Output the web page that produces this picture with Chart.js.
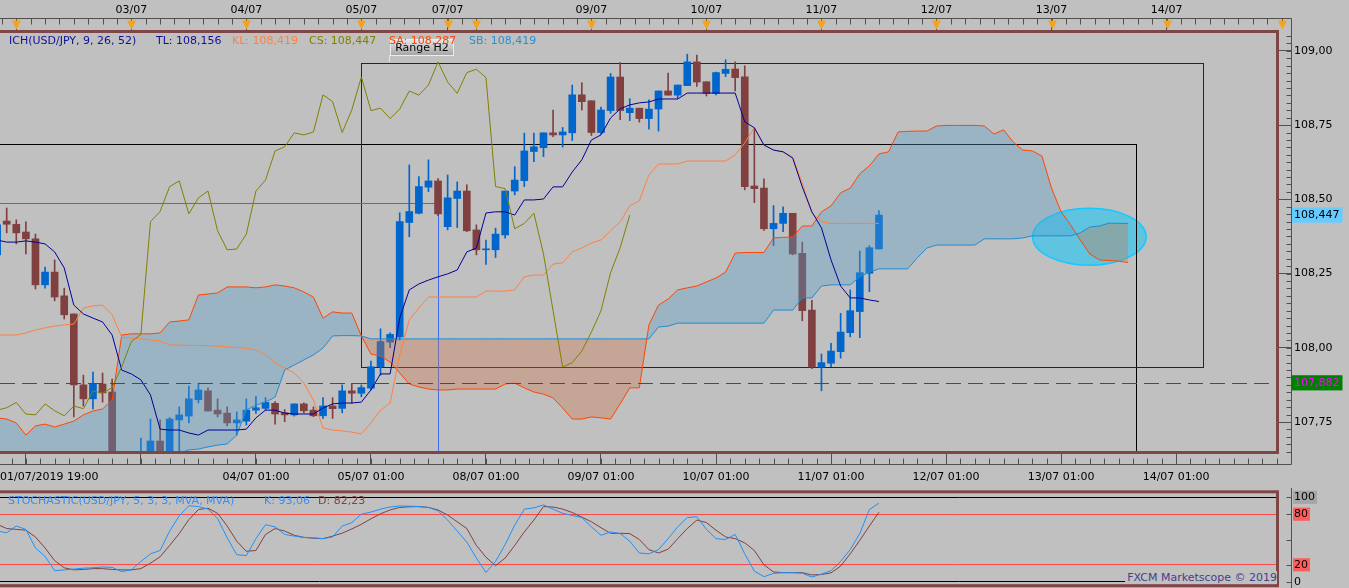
<!DOCTYPE html>
<html>
<head>
<meta charset="utf-8">
<title>USD/JPY H2 - Ichimoku / Stochastic</title>
<script src="https://cdn.jsdelivr.net/npm/chart.js@4.4.0/dist/chart.umd.min.js"></script>
<style>
  html, body { margin: 0; padding: 0; background: #c0c0c0; }
  #wrap { position: relative; width: 1349px; height: 588px; overflow: hidden; font-family: "DejaVu Sans", sans-serif; font-size: 11px; }
  canvas { position: absolute; left: 0; }
  .txt { position: absolute; white-space: nowrap; line-height: 13px; }
  #rangeBtn {
    position: absolute; left: 390px; top: 39px; width: 62px; height: 15px;
    background: linear-gradient(#e4e4e4, #a6a6a6); border: 1px solid #ececec;
    text-align: center; line-height: 16px; color: #000;
  }
  #rangeLink { position: absolute; left: 389px; top: 55px; width: 1px; height: 7px; background: #e6e6e6; }
  #copyright { right: 72px; top: 571px; color: #483d8b; background: #c0c0c0; padding-left: 2px; }
</style>
</head>
<body>
<div id="wrap">
  <canvas id="mainChart" width="1349" height="490" style="top:0"></canvas>
  <canvas id="stochChart" width="1349" height="100" style="top:488px"></canvas>
  <div id="rangeLink"></div>
  <div id="rangeBtn">Range H2</div>
  <div id="ichLegend"></div>
  <div id="stochLegend"></div>
  <div class="txt" id="copyright">FXCM Marketscope © 2019</div>
</div>
<script>
// H2 bars, bar -1 = 01/07/2019 19:00
const FIRST_BAR = -1;
const CHIKOU_SHIFT = 26;

const openP = [
  108.313,108.427,108.416,108.390,108.367,108.212,108.255,108.175,108.114,107.875,
  107.828,107.878,107.851,107.600,107.620,107.600,107.620,107.686,107.630,107.757,
  107.770,107.825,107.855,107.790,107.780,107.747,107.753,107.790,107.796,107.813,
  107.781,107.774,107.811,107.790,107.771,107.804,107.796,107.855,107.847,107.864,
  107.936,108.019,108.037,108.422,108.453,108.541,108.562,108.408,108.503,108.528,
  108.397,108.330,108.330,108.380,108.528,108.563,108.661,108.674,108.724,108.717,
  108.724,108.852,108.832,108.725,108.799,108.912,108.792,108.807,108.772,108.804,
  108.865,108.851,108.883,108.963,108.896,108.857,108.924,108.939,108.913,108.545,
  108.538,108.401,108.419,108.453,108.318,108.127,107.935,107.948,107.987,108.051,
  108.122,108.251,108.333
];
const highP = [
  108.430,108.471,108.431,108.424,108.383,108.272,108.296,108.201,108.114,107.908,
  107.918,107.915,107.895,107.640,107.645,107.696,107.760,107.757,107.765,107.801,
  107.871,107.881,107.865,107.828,107.801,107.784,107.828,107.836,107.832,107.819,
  107.792,107.811,107.815,107.801,107.832,107.832,107.875,107.880,107.875,107.955,
  108.064,108.050,108.455,108.616,108.577,108.633,108.570,108.582,108.559,108.549,
  108.414,108.363,108.403,108.528,108.610,108.723,108.723,108.724,108.801,108.742,
  108.885,108.893,108.832,108.811,108.924,108.961,108.839,108.807,108.835,108.865,
  108.925,108.885,108.989,108.986,108.896,108.929,108.970,108.963,108.950,108.740,
  108.569,108.479,108.475,108.453,108.356,108.160,107.979,108.015,108.116,108.195,
  108.326,108.344,108.462
];
const lowP = [
  108.300,108.387,108.350,108.316,108.198,108.201,108.158,108.097,107.767,107.804,
  107.794,107.817,107.580,107.550,107.560,107.580,107.600,107.610,107.620,107.649,
  107.747,107.814,107.787,107.767,107.737,107.706,107.740,107.779,107.790,107.743,
  107.751,107.770,107.781,107.768,107.762,107.762,107.781,107.813,107.835,107.858,
  107.908,108.000,108.026,108.374,108.451,108.526,108.445,108.397,108.405,108.391,
  108.313,108.281,108.304,108.369,108.515,108.543,108.627,108.644,108.711,108.676,
  108.698,108.801,108.715,108.720,108.790,108.768,108.765,108.760,108.736,108.730,
  108.851,108.840,108.883,108.880,108.848,108.852,108.913,108.865,108.532,108.489,
  108.395,108.344,108.391,108.313,108.091,107.930,107.855,107.936,107.965,108.037,
  108.034,108.189,108.333
];
const closeP = [
  108.414,108.416,108.387,108.367,108.212,108.255,108.171,108.111,107.875,107.828,
  107.878,107.848,107.600,107.620,107.600,107.640,107.686,107.630,107.760,107.774,
  107.828,107.858,107.787,107.777,107.747,107.757,107.790,107.798,107.816,107.777,
  107.774,107.811,107.788,107.771,107.804,107.795,107.855,107.847,107.866,107.936,
  108.021,108.045,108.425,108.459,108.543,108.562,108.451,108.505,108.528,108.394,
  108.330,108.333,108.383,108.528,108.565,108.663,108.677,108.724,108.717,108.727,
  108.852,108.829,108.725,108.801,108.912,108.799,108.807,108.772,108.804,108.865,
  108.851,108.885,108.963,108.895,108.857,108.927,108.938,108.910,108.543,108.536,
  108.401,108.419,108.453,108.316,108.125,107.935,107.950,107.989,108.053,108.125,
  108.253,108.337,108.447
];

// Ichimoku lines, from bar -1
const tenkan = [
  108.363,108.356,108.356,108.360,108.356,108.350,108.323,108.269,108.144,108.114,
  108.100,108.087,108.043,107.925,107.912,107.892,107.841,107.726,107.723,107.723,
  107.713,107.706,107.723,107.723,107.723,107.723,107.726,107.764,107.790,107.790,
  107.780,107.777,107.777,107.777,107.797,107.811,107.814,107.814,107.817,107.858,
  107.912,107.912,108.100,108.195,108.215,108.228,108.239,108.249,108.262,108.323,
  108.336,108.454,108.458,108.458,108.447,108.498,108.498,108.501,108.542,108.542,
  108.592,108.633,108.700,108.717,108.774,108.805,108.818,108.825,108.828,108.838,
  108.838,108.838,108.858,108.858,108.858,108.858,108.858,108.858,108.761,108.741,
  108.683,108.666,108.660,108.639,108.542,108.458,108.404,108.296,108.208,108.168,
  108.168,108.161,108.156
];
const kijun = [
  108.043,108.043,108.043,108.050,108.060,108.067,108.073,108.077,108.080,108.134,
  108.141,108.144,108.111,108.036,108.033,108.030,108.026,108.023,108.009,108.009,
  108.008,108.008,108.007,108.006,108.003,108.001,107.998,107.993,107.976,107.949,
  107.932,107.915,107.881,107.824,107.730,107.723,107.720,107.716,107.710,107.747,
  107.790,107.814,107.976,108.094,108.134,108.171,108.171,108.171,108.171,108.171,
  108.171,108.191,108.191,108.191,108.195,108.239,108.245,108.245,108.282,108.286,
  108.323,108.336,108.353,108.363,108.394,108.424,108.478,108.495,108.582,108.619,
  108.619,108.619,108.629,108.629,108.629,108.629,108.629,108.650,108.690,108.741,
  108.683,108.666,108.660,108.643,108.555,108.454,108.424,108.419,108.419,108.419,
  108.419,108.419,108.419
];
// senkou spans as plotted (already 26 bars ahead), from bar -1 to bar 117
const senkouA = [
  107.764,107.760,107.747,107.706,107.737,107.743,107.733,107.743,107.753,107.774,
  107.787,107.794,107.824,108.043,108.047,108.047,108.047,108.050,108.087,108.090,
  108.094,108.178,108.181,108.185,108.205,108.205,108.205,108.202,108.205,108.212,
  108.208,108.202,108.188,108.171,108.100,108.121,108.117,108.117,108.040,107.979,
  107.972,107.952,107.915,107.878,107.868,107.861,107.858,107.858,107.861,107.861,
  107.861,107.861,107.861,107.878,107.881,107.865,107.851,107.844,107.831,107.797,
  107.760,107.760,107.767,107.764,107.760,107.811,107.865,107.865,108.077,108.144,
  108.164,108.195,108.202,108.208,108.222,108.235,108.255,108.319,108.321,108.321,
  108.321,108.370,108.372,108.373,108.410,108.410,108.458,108.478,108.522,108.538,
  108.586,108.613,108.653,108.660,108.727,108.729,108.730,108.730,108.747,108.749,
  108.749,108.749,108.749,108.747,108.720,108.734,108.693,108.666,108.663,108.646,
  108.538,108.458,108.414,108.363,108.316,108.296,108.294,108.292,108.287
];
const senkouB = [
  107.550,107.550,107.550,107.550,107.550,107.550,107.550,107.550,107.550,107.550,
  107.550,107.550,107.550,107.550,107.550,107.550,107.550,107.550,107.550,107.645,
  107.656,107.659,107.666,107.672,107.676,107.706,107.790,107.807,107.817,107.834,
  107.925,107.942,107.959,107.976,107.999,108.040,108.041,108.041,108.040,108.030,
  108.030,108.030,108.030,108.030,108.030,108.030,108.030,108.030,108.030,108.030,
  108.030,108.030,108.030,108.030,108.030,108.030,108.030,108.030,108.030,108.030,
  108.030,108.030,108.030,108.030,108.030,108.030,108.030,108.030,108.030,108.070,
  108.073,108.083,108.083,108.083,108.083,108.083,108.083,108.083,108.083,108.083,
  108.083,108.127,108.127,108.127,108.168,108.168,108.208,108.212,108.212,108.212,
  108.239,108.255,108.266,108.266,108.266,108.266,108.303,108.336,108.346,108.346,
  108.346,108.346,108.346,108.367,108.367,108.367,108.367,108.370,108.377,108.377,
  108.377,108.377,108.377,108.387,108.407,108.410,108.420,108.419,108.419
];

// Stochastic (5,3,3), from bar -1
const stochK = [
  60,58,66,62,40,30,13,14,15,16,
  16.5,17.5,17,12,14,24,33,37,60,78,
  90,89,86,75,52,32,31,51,67.5,65,
  56,54,52.5,52,51,53,66,70,80,82.5,
  86,88.5,89.7,89.5,89,88,84,73,60,47,
  28,11,24,44,67,86,87.5,91,86,81,
  78.5,76,65,55,59,57,48,34,33,38,
  51,65,76,77,62,51,50,56,33,12.5,
  6,9.8,10.7,10.7,10,5.5,9,13,24,38,
  57,85.5,93.06
];
const stochD = [
  68,63,62,61,53,40,25,16.5,14,14.5,
  15.5,15.5,14.5,14,14,15.5,22,29.5,43,57,
  73.5,85.5,87,81,66,48,36,37,56,63,
  60,55,52.5,51.5,51,54,57.5,62.5,68,74.5,
  80.5,85,88,88.7,89,88,85,79,71,63,
  43,29,19,28,43,59,73,89,88.5,86,
  82,76.5,71,64,57.3,57.3,57,50,38,34,
  38.5,51,63,73,70,61,53,51,46,37,
  20,11.5,10.7,10.7,10.7,8,8.5,10.5,18.5,33,
  49,66,82.23
];

// axes
const dayTicks = [2, 14, 26, 38, 50, 62, 74, 86, 98, 110, 122];
const dayLabels = ['', '', '04/07 01:00', '05/07 01:00', '08/07 01:00', '09/07 01:00', '10/07 01:00', '11/07 01:00', '12/07 01:00', '13/07 01:00', '14/07 01:00'];
const firstBarLabel = '01/07/2019 19:00';
const topTicks = [1, 13, 25, 37, 46, 49, 61, 73, 85, 97, 109, 121];
const topLabels = ['', '03/07', '04/07', '05/07', '07/07', '', '09/07', '10/07', '11/07', '12/07', '13/07', '14/07'];
const sessionMarks = [1, 13, 25, 37, 46, 49, 61, 73, 85, 97, 109, 121, 133];
const priceTicks = [107.75, 108.00, 108.25, 108.50, 108.75, 109.00];
const stochLevels = [0, 20, 80, 100];

// drawings on the chart (bar index / price)
const levelLine = 107.882;
const rangeBox = { from: 37, to: 124.8, low: 107.936, high: 108.960 };
const outerBox = { from: -5, to: 117.85, low: 107.5, high: 108.686 };
const crossMark = { from: -5, bar: 45, price: 108.487 };
const ellipseMark = { bar: 112.95, price: 108.374, dBar: 5.92, dPrice: 0.096 };

const X_MIN = -0.7, X_MAX = 132.63;
const Y_MIN = 107.649, Y_MAX = 109.067;

const UP = '#0066cc', DOWN = '#804040';
const AXIS = '#505050';
const FONT = '"DejaVu Sans", sans-serif';

Chart.defaults.font.family = FONT;
Chart.defaults.font.size = 11;
Chart.defaults.color = '#000';

const fmt = (v, d) => v.toFixed(d).replace('.', ',');
const last = arr => arr[arr.length - 1];
const toXY = (arr, shift = 0) => arr.map((v, k) => ({ x: FIRST_BAR + k + shift, y: v }));
const crisp = v => Math.round(v) + 0.5;

const candleColors = openP.map((o, k) => closeP[k] >= o ? UP : DOWN);
const wickData = lowP.map((l, k) => ({ x: FIRST_BAR + k, y: [l, highP[k]] }));
const bodyData = openP.map((o, k) => ({ x: FIRST_BAR + k, y: [o, closeP[k]] }));
const lastClose = last(closeP);

function hline(ctx, x1, x2, y) { ctx.beginPath(); ctx.moveTo(x1, y); ctx.lineTo(x2, y); ctx.stroke(); }
function vline(ctx, x, y1, y2) { ctx.beginPath(); ctx.moveTo(x, y1); ctx.lineTo(x, y2); ctx.stroke(); }

const mainDecor = {
  id: 'mainDecor',
  beforeDatasetsDraw(chart) {
    const { ctx, chartArea: a, scales: { x, y } } = chart;
    ctx.save();
    ctx.beginPath();
    ctx.rect(a.left, a.top, a.right - a.left, a.bottom - a.top);
    ctx.clip();

    // highlight ellipse
    const cx = x.getPixelForValue(ellipseMark.bar), cy = y.getPixelForValue(ellipseMark.price);
    const rx = x.getPixelForValue(ellipseMark.bar + ellipseMark.dBar) - cx;
    const ry = cy - y.getPixelForValue(ellipseMark.price + ellipseMark.dPrice);
    ctx.beginPath();
    ctx.ellipse(cx, cy, rx, ry, 0, 0, Math.PI * 2);
    ctx.fillStyle = 'rgba(29,199,245,0.6)';
    ctx.fill();
    ctx.strokeStyle = '#14c8ff';
    ctx.lineWidth = 1.5;
    ctx.stroke();

    ctx.lineWidth = 1;
    [[outerBox, '#000000'], [rangeBox, '#800000']].forEach(([b, col]) => {
      const x1 = crisp(x.getPixelForValue(b.from)), x2 = crisp(x.getPixelForValue(b.to));
      const y1 = crisp(y.getPixelForValue(b.high)), y2 = crisp(y.getPixelForValue(b.low));
      ctx.strokeStyle = col;
      ctx.strokeRect(x1, y1, x2 - x1, y2 - y1);
    });

    // cursor lines
    ctx.strokeStyle = '#4468f0';
    const cpx = crisp(x.getPixelForValue(crossMark.bar)), cpy = crisp(y.getPixelForValue(crossMark.price));
    hline(ctx, x.getPixelForValue(crossMark.from), cpx, cpy);
    vline(ctx, cpx, cpy, a.bottom);
    ctx.restore();
  },
  afterDatasetsDraw(chart) {
    const { ctx, chartArea: a, scales: { y } } = chart;
    ctx.save();
    ctx.strokeStyle = '#008000';
    ctx.lineWidth = 1;
    ctx.setLineDash([15, 7]);
    hline(ctx, a.left, a.right, crisp(y.getPixelForValue(levelLine)));
    ctx.restore();
  },
  afterDraw(chart) {
    const { ctx, chartArea: a, scales: { x, xTop, y } } = chart;
    ctx.save();
    ctx.lineWidth = 1;
    ctx.strokeStyle = AXIS;
    const axisX = crisp(y.left + 13);
    const topBase = crisp(xTop.bottom - 13);
    const botBase = crisp(x.top + 12);
    hline(ctx, 0, axisX, topBase);
    hline(ctx, 0, axisX, botBase);
    vline(ctx, axisX, topBase, botBase);

    // minor ticks, every 3 hours
    for (let v = sessionMarks[0] - 1.5; v <= X_MAX + 1; v += 1.5) {
      const px = crisp(x.getPixelForValue(v));
      if (px < 0 || px > axisX) continue;
      vline(ctx, px, topBase, topBase + 6);
    }
    for (let v = dayTicks[0] - 1.5; v <= X_MAX + 1; v += 1.5) {
      const px = crisp(x.getPixelForValue(v));
      if (px < 0 || px > axisX) continue;
      vline(ctx, px, botBase - 6, botBase);
    }
    for (let p = 107.65; p <= Y_MAX; p += 0.025) {
      const py = crisp(y.getPixelForValue(p));
      hline(ctx, axisX - 5, axisX, py);
    }

    // session markers
    ctx.fillStyle = '#f7a21b';
    sessionMarks.forEach(v => {
      const px = Math.round(x.getPixelForValue(v)) + 0.5;
      ctx.beginPath();
      ctx.moveTo(px - 4.5, topBase + 2);
      ctx.lineTo(px + 4.5, topBase + 2);
      ctx.lineTo(px, topBase + 11);
      ctx.closePath();
      ctx.fill();
    });

    // first time label, pinned to the left edge
    ctx.fillStyle = '#000';
    ctx.font = '11px ' + FONT;
    ctx.textAlign = 'left';
    ctx.textBaseline = 'middle';
    ctx.fillText(firstBarLabel, Math.max(a.left, x.getPixelForValue(FIRST_BAR)), x.top + 12 + 7 + 6.6);

    // pane frame
    ctx.strokeStyle = '#7f4646';
    ctx.lineWidth = 3;
    ctx.strokeRect(-5, a.top + 0.5, a.right - 0.5 + 5, a.bottom - a.top);
    ctx.restore();
  }
};

new Chart(document.getElementById('mainChart'), {
  type: 'line',
  data: {
    datasets: [
      { type: 'bar', data: wickData, backgroundColor: candleColors, barThickness: 1, grouped: false, clip: 0, order: 20 },
      { type: 'bar', data: bodyData, backgroundColor: candleColors, barThickness: 7, grouped: false, minBarLength: 1, clip: 0, order: 19 },
      { label: 'SA', data: toXY(senkouA), borderColor: '#ff4500', borderWidth: 1, pointRadius: 0, tension: 0,
        fill: { target: '+1', above: 'rgba(83,158,203,0.35)', below: 'rgba(203,115,72,0.35)' }, order: 5 },
      { label: 'SB', data: toXY(senkouB), borderColor: '#1e8cd2', borderWidth: 1, pointRadius: 0, tension: 0, fill: false, order: 4 },
      { label: 'KL', data: toXY(kijun), borderColor: '#ff8040', borderWidth: 1, pointRadius: 0, tension: 0, fill: false, order: 3 },
      { label: 'TL', data: toXY(tenkan), borderColor: '#000096', borderWidth: 1, pointRadius: 0, tension: 0, fill: false, order: 2 },
      { label: 'CS', data: toXY(closeP, -CHIKOU_SHIFT), borderColor: '#808000', borderWidth: 1, pointRadius: 0, tension: 0, fill: false, order: 1 }
    ]
  },
  options: {
    responsive: false,
    animation: false,
    devicePixelRatio: 1,
    events: [],
    layout: { padding: 0, autoPadding: false },
    plugins: { legend: { display: false }, tooltip: { enabled: false } },
    scales: {
      x: {
        type: 'linear', position: 'bottom', min: X_MIN, max: X_MAX, offset: false,
        afterBuildTicks: s => { s.ticks = dayTicks.map(v => ({ value: v })); },
        afterFit: s => { s.height = 38; s.paddingLeft = 0; s.paddingRight = 0; },
        ticks: { autoSkip: false, maxRotation: 0, padding: 7, callback: v => dayLabels[dayTicks.indexOf(v)] || '' },
        grid: { drawOnChartArea: false, offset: false, tickLength: 12, tickColor: AXIS },
        border: { display: false }
      },
      xTop: {
        type: 'linear', position: 'top', min: X_MIN, max: X_MAX, offset: false,
        afterBuildTicks: s => { s.ticks = topTicks.map(v => ({ value: v })); },
        afterFit: s => { s.height = 31; s.paddingLeft = 0; s.paddingRight = 0; },
        ticks: { autoSkip: false, maxRotation: 0, padding: 1, callback: v => topLabels[topTicks.indexOf(v)] || '' },
        grid: { drawOnChartArea: false, offset: false, tickLength: 13, tickColor: AXIS },
        border: { display: false }
      },
      y: {
        type: 'linear', position: 'right', min: Y_MIN, max: Y_MAX, beginAtZero: false,
        afterBuildTicks: s => {
          s.ticks = priceTicks.concat([levelLine, lastClose]).sort((p, q) => p - q).map(v => ({ value: v }));
        },
        afterFit: s => { s.width = 71; s.paddingTop = 0; s.paddingBottom = 0; },
        ticks: {
          autoSkip: false, padding: 3,
          callback: v => (v === levelLine || v === lastClose) ? fmt(v, 3) : fmt(v, 2),
          color: c => c.tick && c.tick.value === levelLine ? '#ff00ff' : '#000',
          showLabelBackdrop: true,
          backdropPadding: { top: 1, bottom: 1, left: 3, right: 3 },
          backdropColor: c => !c.tick ? 'rgba(0,0,0,0)' :
            c.tick.value === lastClose ? '#66ccff' : c.tick.value === levelLine ? '#008000' : 'rgba(0,0,0,0)'
        },
        grid: {
          drawOnChartArea: false, tickLength: 13,
          tickColor: c => c.tick && (c.tick.value === levelLine || c.tick.value === lastClose) ? 'rgba(0,0,0,0)' : AXIS
        },
        border: { display: false }
      }
    }
  },
  plugins: [mainDecor]
});

const stochDecor = {
  id: 'stochDecor',
  afterDraw(chart) {
    const { ctx, chartArea: a, scales: { y } } = chart;
    ctx.save();
    ctx.lineWidth = 1;
    ctx.strokeStyle = AXIS;
    const axisX = crisp(y.left + 13);
    vline(ctx, axisX, 0, chart.height);
    stochLevels.concat([50]).forEach(v => hline(ctx, axisX - 5, axisX, crisp(y.getPixelForValue(v))));
    ctx.strokeStyle = '#7f4646';
    ctx.lineWidth = 3;
    ctx.strokeRect(-5, a.top - 5.5, a.right - 0.5 + 5, a.bottom - a.top + 9.5);
    ctx.restore();
  }
};

new Chart(document.getElementById('stochChart'), {
  type: 'line',
  data: {
    datasets: [
      { label: 'D', data: toXY(stochD), borderColor: '#804040', borderWidth: 1, pointRadius: 0, tension: 0, order: 2 },
      { label: 'K', data: toXY(stochK), borderColor: '#1e90ff', borderWidth: 1, pointRadius: 0, tension: 0, order: 1 }
    ]
  },
  options: {
    responsive: false,
    animation: false,
    devicePixelRatio: 1,
    events: [],
    layout: { padding: { top: 9.3, bottom: 6.3, left: 0, right: 0 }, autoPadding: false },
    plugins: { legend: { display: false }, tooltip: { enabled: false } },
    scales: {
      x: { type: 'linear', display: false, min: X_MIN, max: X_MAX, offset: false },
      y: {
        type: 'linear', position: 'right', min: 0, max: 100,
        afterBuildTicks: s => { s.ticks = stochLevels.map(v => ({ value: v })); },
        afterFit: s => { s.width = 71; s.paddingTop = 0; s.paddingBottom = 0; },
        ticks: {
          autoSkip: false, padding: 3,
          callback: v => String(v),
          showLabelBackdrop: true,
          backdropPadding: { top: 0, bottom: 0, left: 1, right: 2 },
          backdropColor: c => !c.tick ? 'rgba(0,0,0,0)' :
            c.tick.value === 100 ? '#a6a6a6' : (c.tick.value === 80 || c.tick.value === 20) ? '#ff5c5c' : 'rgba(0,0,0,0)'
        },
        grid: {
          drawOnChartArea: true, tickLength: 13, tickColor: 'rgba(0,0,0,0)',
          color: c => !c.tick ? 'rgba(0,0,0,0)' : (c.tick.value === 80 || c.tick.value === 20) ? '#ff4848' : '#000'
        },
        border: { display: false }
      }
    }
  },
  plugins: [stochDecor]
});

// legends as real text
function addLegend(parentId, items, top) {
  const box = document.getElementById(parentId);
  items.forEach(([text, color, left]) => {
    const s = document.createElement('span');
    s.className = 'txt';
    s.textContent = text;
    s.style.color = color;
    s.style.left = left + 'px';
    s.style.top = top + 'px';
    box.appendChild(s);
  });
}

addLegend('ichLegend', [
  ['ICH(USD/JPY, 9, 26, 52)', '#10109a', 9],
  ['TL: ' + fmt(last(tenkan), 3), '#10109a', 156],
  ['KL: ' + fmt(last(kijun), 3), '#ff8040', 232],
  ['CS: ' + fmt(lastClose, 3), '#808000', 309],
  ['SA: ' + fmt(last(senkouA), 3), '#ff4500', 389],
  ['SB: ' + fmt(last(senkouB), 3), '#2a90d0', 469]
], 34);

addLegend('stochLegend', [
  ['STOCHASTIC(USD/JPY, 5, 3, 3, MVA, MVA)', '#3a8ef0', 8],
  ['K: ' + fmt(last(stochK), 2), '#3a8ef0', 264],
  ['D: ' + fmt(last(stochD), 2), '#804040', 318]
], 494);
</script>
</body>
</html>
